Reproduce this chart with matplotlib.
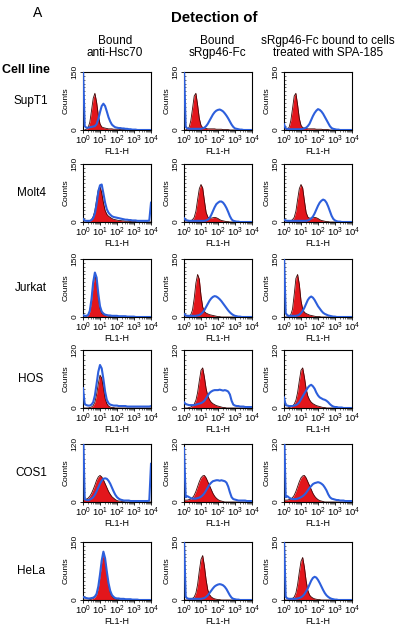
import numpy as np
import matplotlib.pyplot as plt
from matplotlib.ticker import FixedLocator, LogLocator, MultipleLocator, NullFormatter

plt.rcParams['font.family'] = ['Liberation Sans', 'DejaVu Sans']
plt.rcParams['mathtext.fontset'] = 'custom'
plt.rcParams['mathtext.rm'] = 'Liberation Sans'
plt.rcParams['mathtext.it'] = 'Liberation Sans:italic'
plt.rcParams['mathtext.bf'] = 'Liberation Sans:bold'

# FL1-H channels, 0.1 decade apart, 10^0 .. 10^4
fl1 = np.logspace(0, 4, 41)

cell_lines = ['SupT1', 'Molt4', 'Jurkat', 'HOS', 'COS1', 'HeLa']
y_max = [150, 150, 150, 120, 120, 150]
col_titles = ['Bound\nanti-Hsc70', 'Bound\nsRgp46-Fc',
              'sRgp46-Fc bound to cells\ntreated with SPA-185']

# counts per channel: red = control (filled), blue = stained
# a = anti-Hsc70, b = sRgp46-Fc, c = sRgp46-Fc after SPA-185
supt1_red_a = [0,0,2,6,20,50,82,95,72,38, 16,8,6,5,4,3,3,3,2,2, 2,2,1,1,1,1,0,0,0,0, 0,0,0,0,0,0,0,0,0,0,0]
supt1_blue_a = [160,10,6,6,7,8,9,10,15,28, 46,62,68,62,48,33,22,14,10,7, 6,5,5,4,4,3,3,2,2,1, 1,1,0,0,0,0,0,0,0,0,0]
supt1_red_b = [0,0,2,7,24,55,88,95,65,30, 12,6,5,4,3,3,3,3,3,2, 2,2,2,1,1,1,1,0,0,0, 0,0,0,0,0,0,0,0,0,0,0]
supt1_blue_b = [160,8,4,3,3,3,3,3,3,3, 3,4,6,10,16,24,32,40,46,50, 52,53,51,48,43,37,30,22,14,8, 4,3,2,1,1,0,0,0,0,0,0]
supt1_red_c = [0,0,2,7,24,55,88,95,65,30, 12,6,5,4,3,3,3,3,3,2, 2,2,2,1,1,1,1,0,0,0, 0,0,0,0,0,0,0,0,0,0,0]
supt1_blue_c = [15,4,3,2,2,2,2,2,2,2, 2,3,4,6,10,16,26,36,44,50, 54,52,48,42,34,26,18,10,5,3, 2,1,1,0,0,0,0,0,0,0,0]

molt4_red_a = [0,0,0,1,3,6,14,30,58,84, 92,76,50,30,20,15,12,9,7,6, 5,4,4,3,3,2,2,2,1,1, 1,1,0,0,0,0,0,0,0,0,0]
molt4_blue_a = [8,4,3,3,3,5,10,22,46,78, 95,97,74,50,33,24,19,15,13,12, 11,10,9,8,7,6,6,5,5,4, 4,4,3,3,3,3,3,3,3,4,50]
molt4_red_b = [0,0,0,1,3,6,12,28,58,86, 97,88,55,25,13,10,10,11,12,11, 9,6,4,3,2,1,1,0,0,0, 0,0,0,0,0,0,0,0,0,0,0]
molt4_blue_b = [10,5,4,3,3,3,3,3,3,3, 3,3,3,4,6,10,18,28,38,46, 50,53,53,50,44,36,26,15,7,3, 2,1,1,0,0,0,0,0,0,0,0]
molt4_red_c = [0,0,0,1,3,6,12,28,58,86, 97,88,55,25,13,10,10,11,12,11, 9,6,4,3,2,1,1,0,0,0, 0,0,0,0,0,0,0,0,0,0,0]
molt4_blue_c = [6,4,3,3,3,3,3,3,3,3, 3,3,3,3,4,6,9,14,22,32, 42,50,55,58,56,50,40,28,16,8, 4,2,1,1,0,0,0,0,0,0,0]

jurkat_red_a = [0,0,1,4,14,42,85,110,92,52, 22,10,6,4,3,2,1,1,1,1, 0,0,0,0,0,0,0,0,0,0, 0,0,0,0,0,0,0,0,0,0,0]
jurkat_blue_a = [5,3,3,5,16,46,90,115,102,60, 28,14,9,6,5,4,4,3,3,3, 3,2,2,2,2,2,1,1,1,1, 1,0,0,0,0,0,0,0,0,0,0]
jurkat_red_b = [0,0,0,2,6,18,48,88,110,98, 55,26,14,10,8,6,5,4,3,2, 1,1,0,0,0,0,0,0,0,0, 0,0,0,0,0,0,0,0,0,0,0]
jurkat_blue_b = [8,4,3,3,3,3,3,3,4,5, 8,12,18,26,34,42,48,52,54,53, 50,46,41,35,29,23,17,12,8,5, 3,2,1,1,0,0,0,0,0,0,0]
jurkat_red_c = [0,0,0,2,6,20,58,100,110,85, 42,20,12,9,7,5,4,3,2,1, 1,1,0,0,0,0,0,0,0,0, 0,0,0,0,0,0,0,0,0,0,0]
jurkat_blue_c = [160,10,4,3,3,3,3,3,4,6, 10,16,24,34,44,50,53,50,44,36, 28,22,16,11,8,6,4,3,2,1, 1,0,0,0,0,0,0,0,0,0,0]

hos_red_a = [0,0,0,0,1,2,5,12,28,50, 68,62,42,20,9,4,2,1,1,0, 0,0,0,0,0,0,0,0,0,0, 0,0,0,0,0,0,0,0,0,0,0]
hos_blue_a = [41,8,6,5,5,7,12,26,50,75, 89,82,60,34,17,10,7,6,5,5, 5,4,4,4,4,4,3,3,3,3, 3,3,3,3,3,3,3,3,3,3,4]
hos_red_b = [0,0,0,1,2,4,8,16,32,56, 78,83,64,40,25,17,12,9,7,5, 4,3,2,1,1,0,0,0,0,0, 0,0,0,0,0,0,0,0,0,0,0]
hos_blue_b = [12,8,7,6,6,6,6,7,8,9, 10,12,15,20,26,31,34,36,37,37, 37,38,37,36,37,36,34,28,15,7, 5,4,4,3,3,3,2,2,2,2,2]
hos_red_c = [0,0,0,1,2,4,8,16,32,56, 78,83,64,40,25,17,12,9,7,5, 4,3,2,1,1,0,0,0,0,0, 0,0,0,0,0,0,0,0,0,0,0]
hos_blue_c = [22,6,5,4,4,4,5,6,8,12, 18,24,30,36,42,46,48,45,40,32, 26,22,20,18,17,15,12,8,5,3, 2,2,1,1,1,0,0,0,0,0,0]

cos1_red_a = [5,5,6,8,12,18,26,35,45,52, 55,52,46,38,30,22,16,11,8,5, 3,2,2,1,1,0,0,0,0,0, 0,0,0,0,0,0,0,0,0,0,0]
cos1_blue_a = [160,6,4,4,5,7,10,15,22,30, 38,44,48,49,48,44,38,30,22,15, 10,7,5,4,3,3,3,3,2,2, 2,2,2,2,2,2,2,2,2,3,79]
cos1_red_b = [4,4,4,5,6,9,14,22,32,42, 50,54,55,50,42,34,26,18,12,8, 5,3,2,1,0,0,0,0,0,0, 0,0,0,0,0,0,0,0,0,0,0]
cos1_blue_b = [112,10,12,10,8,7,7,7,8,9, 11,14,18,24,30,36,40,43,44,45, 45,44,45,44,43,40,32,20,10,6, 5,4,3,3,3,3,3,2,2,2,2]
cos1_red_c = [4,4,4,5,6,9,14,22,32,42, 50,54,55,50,42,34,26,18,12,8, 5,3,2,1,0,0,0,0,0,0, 0,0,0,0,0,0,0,0,0,0,0]
cos1_blue_c = [160,10,12,9,7,6,6,6,7,8, 10,12,15,19,24,29,33,37,39,40, 41,40,38,35,30,24,16,10,7,6, 5,4,4,3,3,3,2,2,2,2,2]

hela_red_a = [0,0,0,0,1,2,4,7,14,32, 62,98,122,104,70,40,20,10,5,3, 1,1,0,0,0,0,0,0,0,0, 0,0,0,0,0,0,0,0,0,0,0]
hela_blue_a = [8,6,5,4,4,5,6,9,16,35, 66,102,125,108,74,44,24,13,8,5, 4,4,3,3,3,2,2,2,2,1, 1,1,1,0,0,0,0,0,0,0,0]
hela_red_b = [0,0,0,1,2,4,8,18,40,75, 105,115,88,52,26,14,8,5,3,2, 1,1,0,0,0,0,0,0,0,0, 0,0,0,0,0,0,0,0,0,0,0]
hela_blue_b = [160,8,4,3,3,3,3,3,3,3, 3,4,5,8,12,18,24,30,35,38, 40,41,40,38,34,28,20,12,6,3, 2,1,1,0,0,0,0,0,0,0,0]
hela_red_c = [0,0,0,1,2,4,8,18,40,72, 100,110,85,50,25,13,8,5,3,2, 1,1,0,0,0,0,0,0,0,0, 0,0,0,0,0,0,0,0,0,0,0]
hela_blue_c = [160,8,4,3,3,3,3,3,4,5, 7,10,15,22,30,40,50,57,60,58, 52,44,35,26,18,12,8,5,3,2, 1,1,0,0,0,0,0,0,0,0,0]

red_rows = [[supt1_red_a, supt1_red_b, supt1_red_c],
            [molt4_red_a, molt4_red_b, molt4_red_c],
            [jurkat_red_a, jurkat_red_b, jurkat_red_c],
            [hos_red_a, hos_red_b, hos_red_c],
            [cos1_red_a, cos1_red_b, cos1_red_c],
            [hela_red_a, hela_red_b, hela_red_c]]
blue_rows = [[supt1_blue_a, supt1_blue_b, supt1_blue_c],
             [molt4_blue_a, molt4_blue_b, molt4_blue_c],
             [jurkat_blue_a, jurkat_blue_b, jurkat_blue_c],
             [hos_blue_a, hos_blue_b, hos_blue_c],
             [cos1_blue_a, cos1_blue_b, cos1_blue_c],
             [hela_blue_a, hela_blue_b, hela_blue_c]]

W, H = 400, 625
fig = plt.figure(figsize=(W / 100, H / 100), dpi=100)

# panel layout in pixels
col_left = [83, 184, 284]
col_center = [115, 217, 328]
row_bottom = [130, 222, 317, 408, 502, 600]
pw, ph = 68, 58

fig.text(33 / W, 1 - 13 / H, 'A', fontsize=10, ha='left', va='center')
fig.text(214 / W, 1 - 18 / H, 'Detection of', fontsize=10.8, fontweight='bold',
         ha='center', va='center')
for c in range(3):
    fig.text(col_center[c] / W, 1 - 47 / H, col_titles[c], fontsize=8.5,
             ha='center', va='center', linespacing=0.95)
fig.text(2 / W, 1 - 70 / H, 'Cell line', fontsize=9, fontweight='bold',
         ha='left', va='center')

for r in range(6):
    yb = 1 - row_bottom[r] / H
    fig.text(31 / W, yb + ph / H / 2, cell_lines[r], fontsize=8.5,
             ha='center', va='center')
    for c in range(3):
        ax = fig.add_axes([col_left[c] / W, yb, pw / W, ph / H])
        red = red_rows[r][c]
        blue = blue_rows[r][c]
        ax.fill_between(fl1, red, 0, color='#e3161c', lw=0, zorder=2)
        ax.plot(fl1, red, color='#3c0808', lw=0.6, zorder=3)
        ax.plot(fl1, blue, color='#2d5fdc', lw=1.5, zorder=4)
        ax.set_xscale('log')
        ax.set_xlim(1, 1e4)
        ax.set_ylim(0, y_max[r])
        ax.xaxis.set_major_locator(FixedLocator([1, 10, 100, 1000, 10000]))
        ax.xaxis.set_minor_locator(LogLocator(base=10, subs=np.arange(2, 10), numticks=10))
        ax.xaxis.set_minor_formatter(NullFormatter())
        ax.set_yticks([0, y_max[r]])
        ax.set_yticklabels(['0', str(y_max[r])], rotation=90, va='center')
        ax.yaxis.set_minor_locator(MultipleLocator(10))
        ax.tick_params(axis='x', which='major', labelsize=6.8, pad=0.5,
                       length=2.5, width=0.6)
        ax.tick_params(axis='y', which='major', labelsize=6, pad=1,
                       length=2.5, width=0.6)
        ax.tick_params(axis='both', which='minor', length=1.5, width=0.4)
        ax.tick_params(axis='y', which='minor', direction='in')
        ax.set_xlabel('FL1-H', fontsize=6.5, labelpad=0)
        ax.set_ylabel('Counts', fontsize=6, labelpad=1)
        for s in ax.spines.values():
            s.set_linewidth(0.8)

fig.savefig('out.png', dpi=100)
